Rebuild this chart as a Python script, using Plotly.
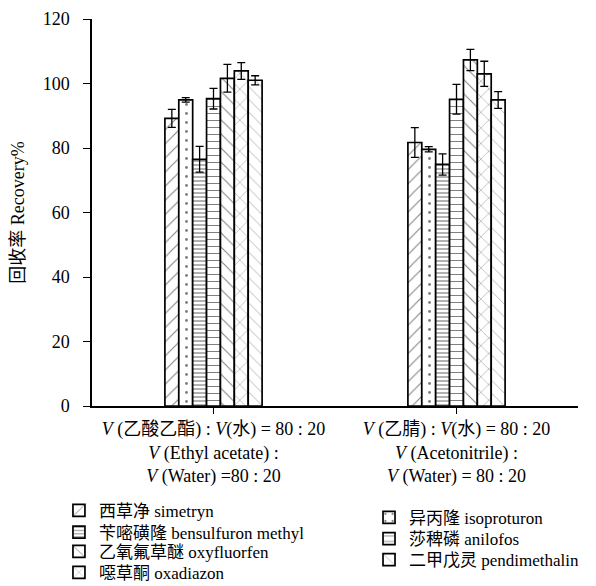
import plotly.graph_objects as go

categories = [
    "<i>V</i> (乙酸乙酯) : <i>V</i>(水) = 80 : 20<br><i>V</i> (Ethyl acetate) :<br><i>V</i> (Water) =80 : 20",
    "<i>V</i> (乙腈) : <i>V</i>(水) = 80 : 20<br><i>V</i> (Acetonitrile) :<br><i>V</i> (Water) = 80 : 20",
]

series_names = [
    "西草净 simetryn",
    "异丙隆 isoproturon",
    "苄嘧磺隆 bensulfuron methyl",
    "莎稗磷 anilofos",
    "乙氧氟草醚 oxyfluorfen",
    "噁草酮 oxadiazon",
    "二甲戊灵 pendimethalin",
]

simetryn = [89.2, 81.7]
isoproturon = [94.9, 79.6]
bensulfuron = [76.5, 74.9]
anilofos = [95.3, 95.1]
oxyfluorfen = [101.6, 107.3]
oxadiazon = [103.9, 103.0]
pendimethalin = [101.0, 94.9]

simetryn_err = [2.8, 4.6]
isoproturon_err = [0.7, 0.8]
bensulfuron_err = [4.0, 3.3]
anilofos_err = [3.2, 4.6]
oxyfluorfen_err = [4.3, 3.3]
oxadiazon_err = [2.6, 3.9]
pendimethalin_err = [1.4, 2.6]

y_ticks = [0, 20, 40, 60, 80, 100, 120]

values = [simetryn, isoproturon, bensulfuron, anilofos, oxyfluorfen, oxadiazon, pendimethalin]
errors = [simetryn_err, isoproturon_err, bensulfuron_err, anilofos_err,
          oxyfluorfen_err, oxadiazon_err, pendimethalin_err]

patterns = [
    dict(shape="/", size=10, solidity=0.1),
    dict(shape=".", size=9, solidity=0.08),
    dict(shape="-", size=4, solidity=0.3),
    dict(shape="-", size=7, solidity=0.15),
    dict(shape="\\", size=10, solidity=0.1),
    dict(shape="x", size=11, solidity=0.08),
    dict(shape="\\", size=9, solidity=0.06),
]

# one legend box per entry, so the rows sit as in the reference
legend_ids = ["legend", "legend5", "legend2", "legend6", "legend3", "legend4", "legend7"]
legend_pos = {
    "legend": (-0.068, -0.271),
    "legend2": (-0.068, -0.327),
    "legend3": (-0.068, -0.377),
    "legend4": (-0.068, -0.431),
    "legend5": (0.570, -0.289),
    "legend6": (0.570, -0.344),
    "legend7": (0.570, -0.398),
}

FONT = '"Liberation Serif", "Noto Sans CJK SC"'
NUM_FONT = "Liberation Serif"

fig = go.Figure()
for name, v, e, p, lg in zip(series_names, values, errors, patterns, legend_ids):
    fig.add_trace(go.Bar(
        x=categories, y=v, name=name,
        marker=dict(color="white", line=dict(color="black", width=1.7),
                    pattern=dict(fgcolor="black", bgcolor="white", **p)),
        error_y=dict(type="data", array=e, color="black", thickness=1.3, width=4),
        legend=lg, showlegend=True,
    ))

legend_layout = {}
for lid, (lx, ly) in legend_pos.items():
    legend_layout[lid] = dict(x=lx, y=ly, xanchor="left", yanchor="middle",
                              font=dict(family=FONT, size=17, color="black"),
                              bgcolor="rgba(0,0,0,0)", borderwidth=0, visible=True)

fig.update_layout(
    width=588, height=578,
    margin=dict(l=84, r=18, t=11, b=180, autoexpand=False),
    paper_bgcolor="white", plot_bgcolor="white",
    showlegend=True,
    barmode="group", bargap=0.6, bargroupgap=0,
    font=dict(family=FONT, size=18, color="black"),
    **legend_layout,
)
fig.update_xaxes(
    showline=True, linecolor="black", linewidth=1.5,
    ticks="outside", ticklen=6, tickcolor="black", tickwidth=1.2,
    showgrid=False, tickfont=dict(family=FONT, size=18, color="black"),
    tickangle=0, automargin=False,
)
fig.update_yaxes(
    range=[0, 120], tickvals=y_ticks,
    showline=True, linecolor="black", linewidth=1.5,
    ticks="outside", ticklen=7, tickcolor="black", tickwidth=1.2,
    showgrid=False, zeroline=False, automargin=False,
    tickfont=dict(family=NUM_FONT, size=18, color="black"), ticklabelstandoff=10,
    title=dict(text="回收率 Recovery%", font=dict(family=FONT, size=18), standoff=23),
)

fig.write_html("out.html")
